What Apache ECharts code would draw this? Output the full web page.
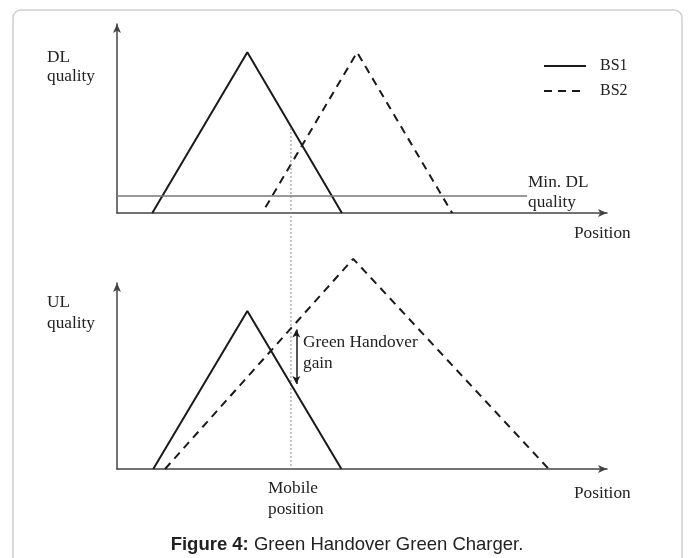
<!DOCTYPE html>
<html>
<head>
<meta charset="utf-8">
<script src="https://cdn.jsdelivr.net/npm/echarts@6/dist/echarts.min.js"></script>
<style>
  html, body { margin: 0; padding: 0; background: #fff; }
  #chart { width: 694px; height: 558px; }
</style>
</head>
<body>
<div id="chart"></div>
<script>
// positions (0-100 along the axis) and quality (0-100 up the axis)
const bs1DlPos = [7.2, 26.6, 45.9];
const bs1DlQuality = [0, 85, 0];
const bs2DlPos = [30.3, 49.0, 68.4];
const bs2DlQuality = [3, 85, 0];

const bs1UlPos = [7.4, 26.6, 45.8];
const bs1UlQuality = [0, 85, 0];
const bs2UlPos = [9.8, 48.2, 88.1];
const bs2UlQuality = [0, 113, 0];

const minDlQuality = 9;
const minDlEnd = 83.7;

const mobilePos = 35.5;
const mobileLineQuality = [45, -135.6]; // from BS1 DL down to the UL axis

const gainPos = 36.6;
const gainRange = [75, 45.7];

const pairs = (xs, ys) => xs.map((x, i) => [x, ys[i]]);

const serif = "'Liberation Serif', 'DejaVu Serif', serif";
const ink = "#1a1a1a";

const chart = echarts.init(document.getElementById("chart"));

const axisX = (gi) => ({
  type: "value",
  gridIndex: gi,
  min: 0,
  max: 100,
  axisLine: {
    onZero: false,
    symbol: ["none", "arrow"],
    symbolSize: [6, 9],
    lineStyle: { color: "#444", width: 1.5 },
  },
  axisTick: { show: false },
  axisLabel: { show: false },
  splitLine: { show: false },
});
const axisY = (gi) => ({
  type: "value",
  gridIndex: gi,
  min: 0,
  max: 100,
  axisLine: {
    show: true,
    onZero: false,
    symbol: ["none", "arrow"],
    symbolSize: [6, 9],
    lineStyle: { color: "#444", width: 1.5 },
  },
  axisTick: { show: false },
  axisLabel: { show: false },
  splitLine: { show: false },
});

const solid = { color: ink, width: 2 };
const dashed = { color: ink, width: 2, type: [8, 6] };

const txt = (x, y, text) => ({
  type: "text",
  x: x,
  y: y,
  scaleX: 1.08,
  style: { text: text, font: "16px " + serif, fill: "#222" },
});

chart.setOption({
  animation: false,
  grid: [
    { left: 117, top: 24, width: 490, height: 189 },
    { left: 117, top: 283, width: 490, height: 186 },
  ],
  xAxis: [axisX(0), axisX(1)],
  yAxis: [axisY(0), axisY(1)],
  legend: {
    orient: "vertical",
    left: 538,
    top: 53,
    itemWidth: 42,
    itemHeight: 14,
    itemGap: 9,
    data: ["BS1", "BS2"],
    itemStyle: { opacity: 0 },
    textStyle: {
      fontFamily: serif,
      fontSize: 16,
      color: "#222",
      padding: [0, 0, 0, 9],
    },
  },
  series: [
    {
      name: "BS1", type: "line", xAxisIndex: 0, yAxisIndex: 0,
      symbol: "none", lineStyle: solid, itemStyle: { color: ink },
      data: pairs(bs1DlPos, bs1DlQuality),
    },
    {
      name: "BS2", type: "line", xAxisIndex: 0, yAxisIndex: 0,
      symbol: "none", lineStyle: dashed, itemStyle: { color: ink },
      data: pairs(bs2DlPos, bs2DlQuality),
    },
    {
      name: "minDL", type: "line", xAxisIndex: 0, yAxisIndex: 0,
      symbol: "none", lineStyle: { color: "#777", width: 1.5 },
      data: [[0, minDlQuality], [minDlEnd, minDlQuality]],
    },
    {
      name: "mobile", type: "line", xAxisIndex: 0, yAxisIndex: 0,
      symbol: "none", clip: false,
      lineStyle: { color: "#888", width: 1, type: [2, 2] },
      data: mobileLineQuality.map((q) => [mobilePos, q]),
    },
    {
      name: "BS1", type: "line", xAxisIndex: 1, yAxisIndex: 1,
      symbol: "none", lineStyle: solid, itemStyle: { color: ink },
      data: pairs(bs1UlPos, bs1UlQuality),
    },
    {
      name: "BS2", type: "line", xAxisIndex: 1, yAxisIndex: 1,
      symbol: "none", clip: false, lineStyle: dashed, itemStyle: { color: ink },
      data: pairs(bs2UlPos, bs2UlQuality),
      markLine: {
        silent: true,
        symbol: ["arrow", "arrow"],
        symbolSize: [6, 8],
        label: { show: false },
        lineStyle: { color: ink, width: 1.5, type: "solid" },
        data: [[{ coord: [gainPos, gainRange[0]] }, { coord: [gainPos, gainRange[1]] }]],
      },
    },
  ],
  graphic: [
    {
      type: "rect",
      shape: { x: 13, y: 10, width: 669, height: 580, r: 8 },
      style: { fill: "none", stroke: "#cfcfcf", lineWidth: 1.5 },
      z: -1,
    },
    txt(47, 50, "DL"),
    txt(47, 69, "quality"),
    txt(47, 295, "UL"),
    txt(47, 316, "quality"),
    txt(528, 175, "Min. DL"),
    txt(528, 195, "quality"),
    txt(574, 226, "Position"),
    txt(574, 486, "Position"),
    txt(303, 335, "Green Handover"),
    txt(303, 356, "gain"),
    txt(268, 481, "Mobile"),
    txt(268, 502, "position"),
    {
      type: "text",
      left: "center",
      top: 535,
      style: {
        text: "{b|Figure 4:} Green Handover Green Charger.",
        font: "18.5px 'Liberation Sans', Arial, sans-serif",
        fill: "#222",
        rich: {
          b: { fontWeight: "bold", fontSize: 18.5, fontFamily: "'Liberation Sans', Arial, sans-serif", fill: "#222" },
        },
      },
    },
  ],
});
</script>
</body>
</html>
